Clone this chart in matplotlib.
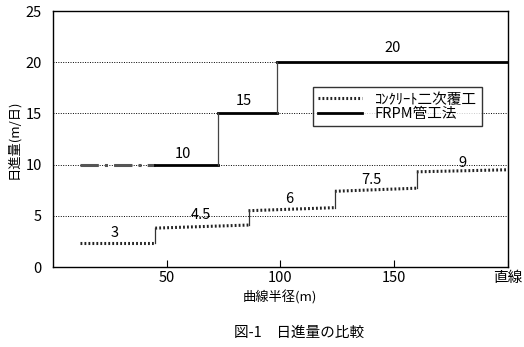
import matplotlib.pyplot as plt
import numpy as np

plt.rcParams["font.family"] = ["Noto Sans CJK JP", "DejaVu Sans"]

# コンクリート二次覆工: steps (x start, x end, y start, y end)
con_x0 = [12, 45, 86, 124, 160]
con_x1 = [45, 86, 124, 160, 200]
con_y0 = [2.3, 3.8, 5.5, 7.4, 9.3]
con_y1 = [2.3, 4.1, 5.8, 7.7, 9.5]
con_labels = ["3", "4.5", "6", "7.5", "9"]
con_lab_x = [27, 65, 104, 140, 180]
con_lab_y = [3.3, 5.1, 6.6, 8.5, 10.2]

# FRPM管工法
frp_x0 = [45, 72.5, 98.5]
frp_x1 = [72.5, 98.5, 200]
frp_y = [10, 15, 20]
frp_dash_x = [12, 45]
frp_labels = ["10", "15", "20"]
frp_lab_x = [57, 84, 149.5]
frp_lab_y = [11.0, 16.2, 21.4]

xticks = [50, 100, 150, 200]
xticklabels = ["50", "100", "150", "直線"]

fig = plt.figure(figsize=(5.24, 3.47), dpi=100)
ax = fig.add_axes([0.101, 0.2305, 0.868, 0.7375])

# grid
for g in [5, 10, 15, 20]:
    ax.axhline(g, color="black", lw=0.7, ls=(0, (1, 1.5)), zorder=1)

# concrete series
for i in range(len(con_x0)):
    lab = "ｺﾝｸﾘｰﾄ二次覆工" if i == 0 else None
    ax.plot([con_x0[i], con_x1[i]], [con_y0[i], con_y1[i]], color="#222222",
            lw=2.2, ls=(0, (0.6, 0.7)), label=lab, zorder=3)
    if i > 0:
        ax.plot([con_x0[i], con_x0[i]], [con_y1[i - 1], con_y0[i]],
                color="#333333", lw=0.9, zorder=3)
    ax.text(con_lab_x[i], con_lab_y[i], con_labels[i], ha="center", va="center",
            fontsize=10.5)

# FRPM series
ax.plot(frp_dash_x, [frp_y[0], frp_y[0]], color="#555555", lw=2.2,
        ls=(0, (6, 2, 1, 2)), zorder=3)
for i in range(len(frp_x0)):
    lab = "FRPM管工法" if i == 0 else None
    ax.plot([frp_x0[i], frp_x1[i]], [frp_y[i], frp_y[i]], color="black",
            lw=2.0, label=lab, zorder=3)
    if i > 0:
        ax.plot([frp_x0[i], frp_x0[i]], [frp_y[i - 1], frp_y[i]],
                color="#444444", lw=0.9, zorder=3)
    ax.text(frp_lab_x[i], frp_lab_y[i], frp_labels[i], ha="center", va="center",
            fontsize=10.5)

ax.set_xlim(0, 200)
ax.set_ylim(0, 25)
ax.set_xticks(xticks)
ax.set_xticklabels(xticklabels, fontsize=10.5)
ax.set_yticks([0, 5, 10, 15, 20, 25])
ax.tick_params(axis="x", direction="in", length=5, width=0.8, pad=3)
ax.tick_params(axis="y", length=0, pad=8, labelsize=10.5)
for s in ax.spines.values():
    s.set_linewidth(1.0)

ax.set_xlabel("曲線半径(m)", fontsize=9.5)
ax.xaxis.set_label_coords(0.5, -0.092)
ax.set_ylabel("日進量(m/日)", fontsize=9.5)
ax.yaxis.set_label_coords(-0.072, 0.5)

leg = ax.legend(loc="upper left", bbox_to_anchor=(0.555, 0.73), fontsize=10.5,
                frameon=True, fancybox=False, edgecolor="black",
                handlelength=3.0, borderpad=0.35, labelspacing=0.05,
                handletextpad=0.9)
leg.get_frame().set_linewidth(1.0)

fig.text(0.57, 0.04, "図-1　日進量の比較", ha="center", va="center", fontsize=10.5)

fig.savefig("out.png", dpi=100)
